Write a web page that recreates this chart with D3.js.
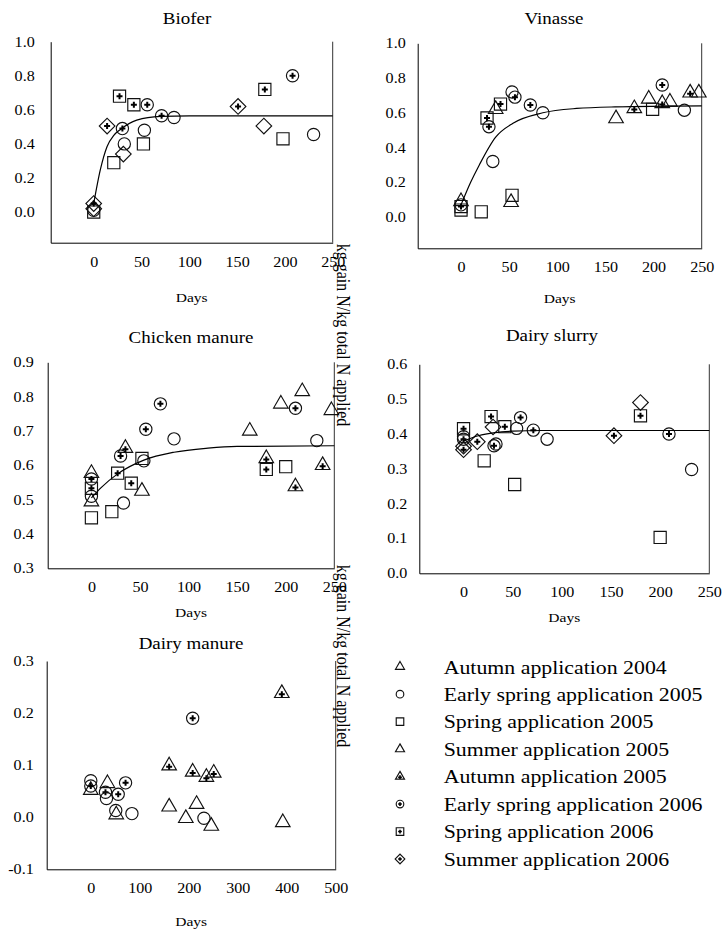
<!DOCTYPE html>
<html>
<head>
<meta charset="utf-8">
<script src="https://cdn.jsdelivr.net/npm/d3@7"></script>
<style>
  body { margin: 0; background: #fff; }
  svg text { font-family: "Liberation Serif", "Times New Roman", serif; fill: #000; }
</style>
</head>
<body>
<div id="chart"></div>
<script>
// N mineralisation after manure application - five panels + legend

// series keys and legend labels
const seriesKeys = ["A04", "ES05", "S05", "SU05", "A05", "ES06", "S06", "SU06"];
const seriesLabels = [
  "Autumn application 2004",
  "Early spring application 2005",
  "Spring application 2005",
  "Summer application 2005",
  "Autumn application 2005",
  "Early spring application 2006",
  "Spring application 2006",
  "Summer application 2006"
];

// [series, days, kg gain N / kg total N applied]
const bioferPoints = [
  ["S05", 0, 0.00], ["ES05", 0, 0.01], ["SU05", 0, 0.02], ["SU06", 0, 0.05],
  ["SU06", 14, 0.505], ["S05", 21, 0.29], ["S06", 27, 0.68], ["ES06", 30, 0.49],
  ["SU05", 31, 0.34], ["ES05", 32, 0.40], ["S06", 42, 0.63], ["S05", 52, 0.40],
  ["ES05", 53, 0.48], ["ES06", 56, 0.63], ["ES06", 71, 0.565], ["ES05", 84, 0.555],
  ["SU06", 151, 0.62], ["SU05", 178, 0.505], ["S06", 179, 0.72], ["S05", 198, 0.43],
  ["ES06", 208, 0.80], ["ES05", 230, 0.455]
];
const vinassePoints = [
  ["A04", 0, 0.09], ["ES05", 0, 0.07], ["S06", 0, 0.06], ["S05", 0, 0.04],
  ["S05", 21, 0.03], ["S06", 27, 0.57], ["ES06", 29, 0.52], ["ES05", 33, 0.32],
  ["A04", 36, 0.62], ["S06", 41, 0.65], ["A04", 52, 0.085], ["S05", 53, 0.125],
  ["ES05", 53, 0.72], ["ES06", 56, 0.69], ["ES06", 72, 0.645], ["ES05", 85, 0.60],
  ["A04", 161, 0.567], ["A05", 180, 0.625], ["A04", 195, 0.68], ["S05", 199, 0.62],
  ["ES06", 209, 0.76], ["A05", 209, 0.654], ["A04", 217, 0.663], ["ES05", 232, 0.615],
  ["A05", 238, 0.715], ["A04", 247, 0.715]
];
const chickenPoints = [
  ["A04", 0, 0.577], ["ES06", 0, 0.56], ["S06", 0, 0.533], ["ES05", 0, 0.51],
  ["A04", 0, 0.494], ["S05", 0, 0.447], ["S05", 21, 0.465], ["S06", 27, 0.577],
  ["ES06", 30, 0.627], ["ES05", 33, 0.49], ["A05", 35, 0.65], ["S06", 41, 0.548],
  ["A04", 52, 0.525], ["S05", 52, 0.62], ["ES05", 54, 0.613], ["ES06", 56, 0.705],
  ["ES06", 71, 0.779], ["ES05", 85, 0.677], ["A04", 163, 0.70], ["A05", 180, 0.62],
  ["S06", 180, 0.588], ["A04", 195, 0.779], ["S05", 200, 0.596], ["ES06", 210, 0.766],
  ["A05", 210, 0.538], ["A04", 217, 0.815], ["ES05", 232, 0.672], ["A05", 238, 0.60],
  ["A04", 247, 0.76]
];
const slurryPoints = [
  ["S06", 0, 0.415], ["ES05", 0, 0.392], ["ES06", 0, 0.385], ["SU05", 0, 0.365],
  ["SU06", 0, 0.355], ["SU06", 14, 0.378], ["S05", 21, 0.323], ["S06", 28, 0.45],
  ["SU05", 30, 0.42], ["ES06", 31, 0.366], ["ES05", 33, 0.371], ["S06", 42, 0.421],
  ["S05", 52, 0.255], ["ES05", 54, 0.416], ["ES06", 58, 0.447], ["ES06", 71, 0.411],
  ["ES05", 85, 0.385], ["SU06", 153, 0.395], ["SU05", 180, 0.49], ["S06", 180, 0.452],
  ["S05", 200, 0.103], ["ES06", 209, 0.40], ["ES05", 232, 0.298]
];
const manurePoints = [
  ["ES05", 0, 0.07], ["ES06", 0, 0.06], ["A04", 0, 0.052], ["ES06", 30, 0.048],
  ["ES05", 32, 0.036], ["A04", 34, 0.065], ["ES05", 51, 0.013], ["A04", 52, 0.005],
  ["ES06", 56, 0.044], ["ES06", 71, 0.066], ["ES05", 84, 0.007], ["A05", 160, 0.099],
  ["A04", 160, 0.02], ["A04", 194, -0.002], ["A05", 208, 0.087], ["A04", 216, 0.025],
  ["ES05", 231, -0.002], ["A05", 236, 0.077], ["A04", 246, -0.017], ["A05", 251, 0.085],
  ["ES06", 208, 0.19], ["A05", 390, 0.238], ["A04", 392, -0.01]
];

// fitted curves as [days, value]
const bioferCurve = [[0, 0.05], [7, 0.25], [14, 0.385], [21, 0.45], [28, 0.485], [45, 0.54], [70, 0.562], [100, 0.565], [250, 0.565]];
const vinasseCurve = [[0, 0.07], [10, 0.2], [19, 0.3], [36, 0.46], [54, 0.54], [85, 0.60], [120, 0.625], [160, 0.634], [250, 0.64]];
const chickenCurve = [[0, 0.505], [10, 0.535], [27, 0.575], [54, 0.615], [85, 0.638], [120, 0.65], [150, 0.655], [250, 0.657]];
const slurryCurve = [[0, 0.38], [15, 0.395], [32, 0.404], [50, 0.408], [80, 0.41], [250, 0.41]];

// tick values
const daysTicks250 = [0, 50, 100, 150, 200, 250];
const daysTicks500 = [0, 100, 200, 300, 400, 500];
const ticksBiofer = [0, 0.2, 0.4, 0.6, 0.8, 1.0];
const ticksChicken = [0.3, 0.4, 0.5, 0.6, 0.7, 0.8, 0.9];
const ticksSlurry = [0, 0.1, 0.2, 0.3, 0.4, 0.5, 0.6];
const ticksManure = [-0.1, 0, 0.1, 0.2, 0.3];

const W = 722, H = 930;
const FONT = "Liberation Serif, Times New Roman, serif";
const SX = 1.15; // the original figure is a bit stretched sideways

const svg = d3.select("#chart").append("svg")
  .attr("width", W).attr("height", H)
  .attr("viewBox", `0 0 ${W} ${H}`);

// marker look per series (plot) and legend
const plotShape = { A04: "tri", ES05: "circ", S05: "sq", SU05: "dia", A05: "tri", ES06: "circ", S06: "sq", SU06: "dia" };
const legendShape = { A04: "tri", ES05: "circ", S05: "sq", SU05: "tri", A05: "tri", ES06: "circ", S06: "sq", SU06: "dia" };
const hasPlus = { A05: true, ES06: true, S06: true, SU06: true };

function shapePath(kind, k) {
  if (kind === "tri") return d3.symbol().type(d3.symbolTriangle).size(92 * k * k)();
  if (kind === "circ") return d3.symbol().type(d3.symbolCircle).size(118 * k * k)();
  if (kind === "sq") return d3.symbol().type(d3.symbolSquare).size(148 * k * k)();
  return d3.symbol().type(d3.symbolSquare).size(122 * k * k)();
}

function drawMarker(sel, key, kind, k) {
  sel.append("path")
    .attr("d", shapePath(kind, k))
    .attr("transform", kind === "dia" ? "rotate(45)" : null)
    .attr("fill", "none")
    .attr("stroke", "#111")
    .attr("stroke-width", 1.15);
  if (hasPlus[key]) {
    const s = 3 * k;
    const dy = kind === "tri" ? 1 * k : 0;
    sel.append("path")
      .attr("d", `M${-s},${dy}H${s}M0,${dy - s}V${dy + s}`)
      .attr("stroke", "#000")
      .attr("stroke-width", k < 1 ? 1.6 : 2);
  }
}

const panels = [
  { title: "Biofer", points: bioferPoints, curve: bioferCurve,
    xDomain: [-45, 250], yDomain: [-0.18, 1.0], xTicks: daysTicks250, yTicks: ticksBiofer,
    left: 50.7, right: 332.7, top: 41.7, bottom: 242.7, yPad: 16,
    titleX: 187, titleY: 24, daysY: 302 },
  { title: "Vinasse", points: vinassePoints, curve: vinasseCurve,
    xDomain: [-45, 250], yDomain: [-0.18, 1.0], xTicks: daysTicks250, yTicks: ticksBiofer,
    left: 417.7, right: 701.7, top: 43.3, bottom: 248.3, yPad: 12,
    titleX: 554, titleY: 24, daysY: 303 },
  { title: "Chicken manure", points: chickenPoints, curve: chickenCurve,
    xDomain: [-45, 250], yDomain: [0.3, 0.9], xTicks: daysTicks250, yTicks: ticksChicken,
    left: 47.7, right: 334.3, top: 362.3, bottom: 568.3, yPad: 14,
    titleX: 191, titleY: 343, daysY: 617 },
  { title: "Dairy slurry", points: slurryPoints, curve: slurryCurve,
    xDomain: [-45, 250], yDomain: [0, 0.6], xTicks: daysTicks250, yTicks: ticksSlurry,
    left: 419.3, right: 709.3, top: 364.3, bottom: 573.3, yPad: 12,
    titleX: 552, titleY: 341, daysY: 622 },
  { title: "Dairy manure", points: manurePoints, curve: null,
    xDomain: [-90, 500], yDomain: [-0.1, 0.3], xTicks: daysTicks500, yTicks: ticksManure,
    left: 46.7, right: 335.7, top: 661, bottom: 869.3, yPad: 13,
    titleX: 191, titleY: 649, daysY: 926 }
];

panels.forEach(p => {
  const g = svg.append("g");
  const x = d3.scaleLinear().domain(p.xDomain).range([p.left, p.right]);
  const y = d3.scaleLinear().domain(p.yDomain).range([p.bottom, p.top]);

  // X axis
  g.append("g")
    .attr("transform", `translate(0,${p.bottom})`)
    .call(d3.axisBottom(x).tickValues(p.xTicks).tickSize(0).tickSizeOuter(0).tickPadding(14).tickFormat(d3.format("d")))
    .attr("font-family", FONT).attr("font-size", 14)
    .call(a => a.select(".domain").attr("stroke", "#000"))
    .call(a => a.selectAll(".tick text").attr("transform", `scale(${SX},1)`));

  // Y axis
  g.append("g")
    .attr("transform", `translate(${p.left},0)`)
    .call(d3.axisLeft(y).tickValues(p.yTicks).tickSize(0).tickSizeOuter(0).tickPadding(p.yPad).tickFormat(d => d.toFixed(1)))
    .attr("font-family", FONT).attr("font-size", 14)
    .call(a => a.select(".domain").attr("stroke", "#000"))
    .call(a => a.selectAll(".tick text").attr("x", -p.yPad / SX).attr("transform", `scale(${SX},1)`));

  // right frame line
  g.append("line")
    .attr("x1", p.right).attr("x2", p.right)
    .attr("y1", p.top).attr("y2", p.bottom)
    .attr("stroke", "#333");

  // title and axis label
  g.append("text")
    .attr("transform", `translate(${p.titleX},${p.titleY}) scale(${SX},1)`)
    .attr("text-anchor", "middle")
    .attr("font-family", FONT)
    .attr("font-size", 16.5)
    .text(p.title);

  g.append("text")
    .attr("transform", `translate(${(p.left + p.right) / 2},${p.daysY}) scale(${SX},1)`)
    .attr("text-anchor", "middle")
    .attr("font-family", FONT)
    .attr("font-size", 13.5)
    .text("Days");

  // markers
  g.selectAll(".pt")
    .data(p.points)
    .enter()
    .append("g")
    .attr("class", "pt")
    .attr("transform", d => `translate(${x(d[1])},${y(d[2])})`)
    .each(function(d) { drawMarker(d3.select(this), d[0], plotShape[d[0]], 1); });

  // fitted curve
  if (p.curve) {
    const line = d3.line()
      .x(d => x(d[0]))
      .y(d => y(d[1]))
      .curve(d3.curveMonotoneX);
    g.append("path")
      .datum(p.curve)
      .attr("d", line)
      .attr("fill", "none")
      .attr("stroke", "#000")
      .attr("stroke-width", 1.2);
  }
});

// shared y-axis label (printed twice, rotated)
[335, 656].forEach(cy => {
  svg.append("text")
    .attr("transform", `translate(337,${cy}) rotate(90) scale(1,${SX})`)
    .attr("text-anchor", "middle")
    .attr("font-family", FONT)
    .attr("font-size", 16)
    .text("kg gain N/kg total N applied");
});

// legend
const legendY = d3.scalePoint().domain(seriesKeys).range([666.7, 859]);
const legend = svg.append("g");
seriesKeys.forEach((key, i) => {
  const row = legend.append("g").attr("transform", `translate(0,${legendY(key)})`);
  const m = row.append("g").attr("transform", "translate(400,0)");
  drawMarker(m, key, legendShape[key], 0.62);
  row.append("text")
    .attr("transform", "translate(443.7,0) scale(1.12,1)")
    .attr("dy", "0.35em")
    .attr("font-family", FONT)
    .attr("font-size", 19.5)
    .text(seriesLabels[i]);
});
</script>
</body>
</html>
